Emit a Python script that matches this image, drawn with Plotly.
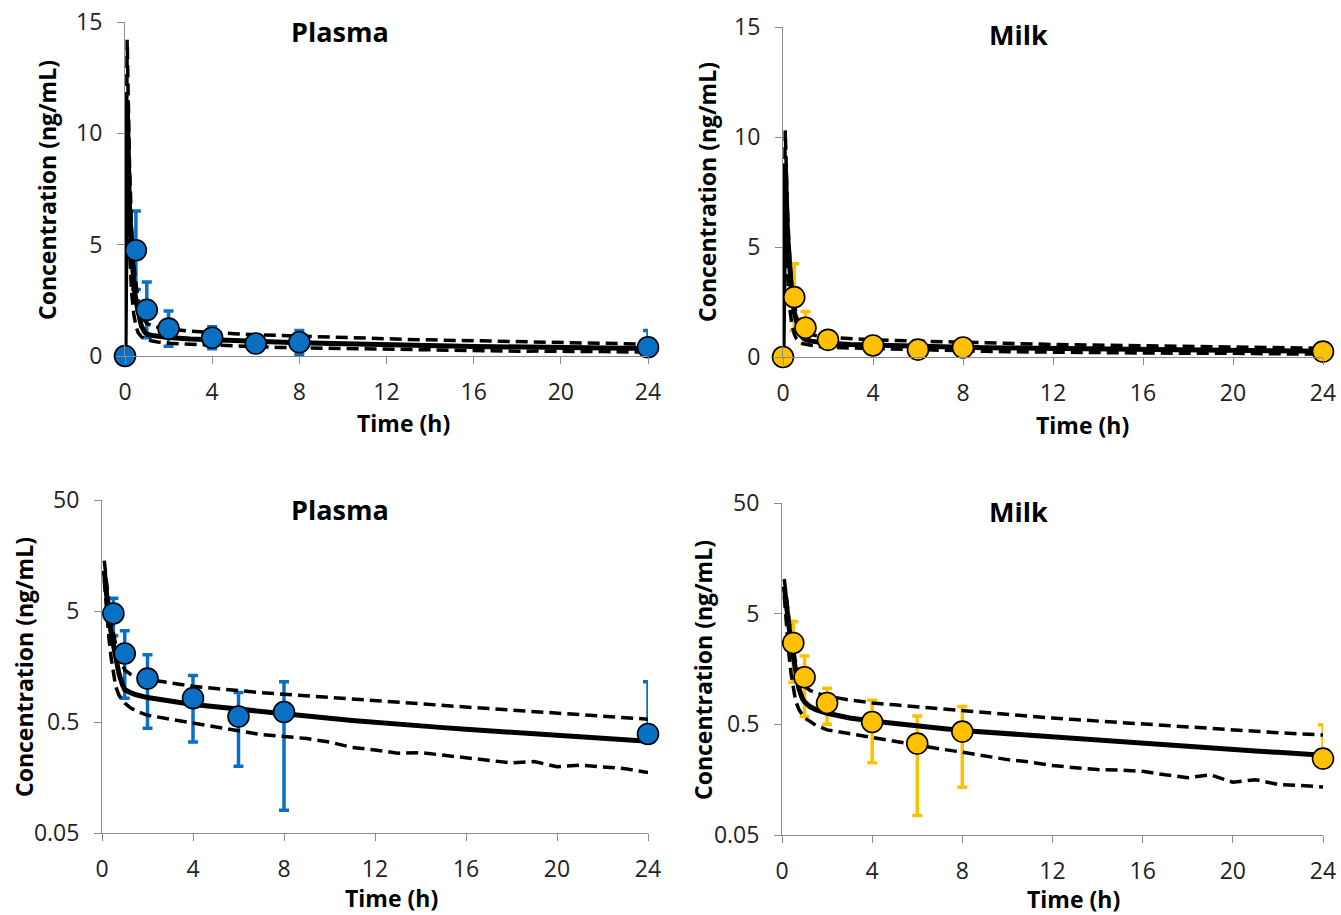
import plotly.graph_objects as go

# ---------------- data ----------------
obs_time = [0, 0.5, 1, 2, 4, 6, 8, 24]
plasma_mean = [0, 4.75, 2.07, 1.23, 0.82, 0.56, 0.615, 0.39]
plasma_sd = [0, 1.76, 1.25, 0.79, 0.49, 0.36, 0.535, 0.76]
milk_mean = [0, 2.72, 1.33, 0.78, 0.525, 0.335, 0.43, 0.245]
milk_sd = [0, 1.52, 0.74, 0.28, 0.30, 0.26, 0.295, 0.25]

sim_time = [0, 0.1, 0.2, 0.3, 0.4, 0.5, 0.6, 0.75, 0.9, 1.0, 1.25, 1.5, 2, 3, 4, 5, 6, 7, 8,
            9, 10, 11, 12, 13, 14, 15, 16, 17, 18, 19, 20, 21, 22, 23, 24]
plasma_p50 = [0, 11.5, 6.8, 4.4, 3.2, 2.5, 1.9, 1.35, 1.08, 0.98, 0.92, 0.88, 0.83, 0.765, 0.72,
              0.685, 0.65, 0.62, 0.595, 0.567, 0.54, 0.517, 0.495, 0.477, 0.46, 0.445, 0.43,
              0.417, 0.405, 0.392, 0.38, 0.367, 0.355, 0.345, 0.335]
plasma_p95 = [0, 14.2, 8.8, 5.8, 4.1, 3.1, 2.5, 1.95, 1.6, 1.47, 1.35, 1.29, 1.21, 1.12, 1.05,
              1.0, 0.955, 0.92, 0.89, 0.86, 0.83, 0.80, 0.77, 0.745, 0.725, 0.70, 0.68,
              0.66, 0.64, 0.62, 0.60, 0.585, 0.57, 0.545, 0.53]
plasma_p05 = [0, 9.5, 5.0, 2.9, 1.9, 1.35, 1.05, 0.87, 0.78, 0.74, 0.67, 0.63, 0.575, 0.53, 0.49,
              0.455, 0.42, 0.385, 0.37, 0.355, 0.33, 0.295, 0.28, 0.262, 0.265, 0.252, 0.238,
              0.228, 0.214, 0.22, 0.198, 0.204, 0.197, 0.19, 0.175]
milk_p50 = [0, 8.8, 5.6, 3.7, 2.7, 2.05, 1.55, 1.05, 0.86, 0.8, 0.72, 0.68, 0.63, 0.57, 0.535,
            0.505, 0.48, 0.46, 0.44, 0.425, 0.41, 0.396, 0.383, 0.37, 0.357, 0.345, 0.333,
            0.323, 0.313, 0.305, 0.296, 0.287, 0.279, 0.271, 0.263]
milk_p95 = [0, 10.3, 6.6, 4.4, 3.1, 2.4, 1.85, 1.4, 1.17, 1.1, 1.01, 0.96, 0.9, 0.83, 0.78,
            0.75, 0.72, 0.695, 0.67, 0.645, 0.62, 0.595, 0.57, 0.552, 0.535, 0.517, 0.50,
            0.485, 0.47, 0.455, 0.44, 0.43, 0.42, 0.41, 0.40]
milk_p05 = [0, 7.2, 3.8, 2.2, 1.45, 1.05, 0.82, 0.68, 0.6, 0.57, 0.53, 0.49, 0.445, 0.41, 0.38,
            0.35, 0.32, 0.30, 0.28, 0.26, 0.24, 0.228, 0.212, 0.203, 0.195, 0.193, 0.188,
            0.175, 0.165, 0.175, 0.15, 0.158, 0.143, 0.14, 0.136]

x_ticks = [0, 4, 8, 12, 16, 20, 24]
lin_ticks = [0, 5, 10, 15]
log_ticks = [0.05, 0.5, 5, 50]
log_ticktext = ["0.05", "0.5", "5", "50"]

BLUE = "#0a70c4"
GOLD = "#ffc000"
W, H = 1341, 915
FONT = "Open Sans"

fig = go.Figure()


def px_x(p):
    return p / W


def px_y(p):
    return 1 - p / H


def add_panel(n, mean, sd, p50, p05, p95, color, log):
    xa = "x" if n == 1 else f"x{n}"
    ya = "y" if n == 1 else f"y{n}"
    if log:
        t_obs = [t for t, m in zip(obs_time, mean) if m > 0]
        m_obs = [m for m in mean if m > 0]
        s_obs = [s for s, m in zip(sd, mean) if m > 0]
        minus = [s if m - s > 0 else 0 for m, s in zip(m_obs, s_obs)]
        ts = [t for t, v in zip(sim_time, p50) if v > 0]
        c50 = [v for v in p50 if v > 0]
        c05 = [v for v in p05 if v > 0]
        c95 = [v for v in p95 if v > 0]
    else:
        t_obs, m_obs, s_obs = obs_time, mean, sd
        minus = sd
        ts, c50, c05, c95 = sim_time, p50, p05, p95
    # error bars
    fig.add_trace(go.Scatter(
        x=t_obs, y=m_obs, mode="markers", xaxis=xa, yaxis=ya,
        marker=dict(size=1, color="rgba(0,0,0,0)"),
        error_y=dict(type="data", symmetric=False, array=s_obs, arrayminus=minus,
                     color=color, thickness=3.5, width=5),
        showlegend=False, hoverinfo="skip"))
    # simulated percentiles
    for c, dash, wd in [(c05, "12px,6px", 3.5), (c95, "12px,6px", 3.5), (c50, "solid", 5)]:
        fig.add_trace(go.Scatter(
            x=ts, y=c, mode="lines", xaxis=xa, yaxis=ya,
            line=dict(color="black", width=wd, dash=dash),
            showlegend=False))
    # observed points
    fig.add_trace(go.Scatter(
        x=t_obs, y=m_obs, mode="markers", xaxis=xa, yaxis=ya, cliponaxis=False,
        marker=dict(size=21, color=color, line=dict(color="black", width=1.6)),
        showlegend=False))


add_panel(1, plasma_mean, plasma_sd, plasma_p50, plasma_p05, plasma_p95, BLUE, False)
add_panel(2, milk_mean, milk_sd, milk_p50, milk_p05, milk_p95, GOLD, False)
add_panel(3, plasma_mean, plasma_sd, plasma_p50, plasma_p05, plasma_p95, BLUE, True)
add_panel(4, milk_mean, milk_sd, milk_p50, milk_p05, milk_p95, GOLD, True)

axis_common = dict(showline=True, linecolor="#8c8c8c", linewidth=1, ticks="outside",
                   ticklen=7, tickcolor="#8c8c8c", showgrid=False, zeroline=False,
                   automargin=False, ticklabeloverflow="allow",
                   tickfont=dict(family=FONT, size=23, color="#222222"))

panels = {
    1: dict(x=(125, 648), y=(22, 356), log=False),
    2: dict(x=(783, 1323), y=(27, 357), log=False),
    3: dict(x=(102, 648), y=(500, 833), log=True),
    4: dict(x=(782, 1323), y=(503, 835), log=True),
}
layout = {}
for n, p in panels.items():
    xk = "xaxis" if n == 1 else f"xaxis{n}"
    yk = "yaxis" if n == 1 else f"yaxis{n}"
    ya = "y" if n == 1 else f"y{n}"
    xa = "x" if n == 1 else f"x{n}"
    layout[xk] = dict(axis_common, domain=[px_x(p["x"][0]), px_x(p["x"][1])], anchor=ya,
                      range=[0, 24], tickvals=x_ticks, ticklabelstandoff=8)
    if p["log"]:
        layout[yk] = dict(axis_common, domain=[px_y(p["y"][1]), px_y(p["y"][0])], anchor=xa,
                          type="log", range=[-1.30103, 1.69897], tickvals=log_ticks,
                          ticktext=log_ticktext, ticklabelstandoff=10)
    else:
        layout[yk] = dict(axis_common, domain=[px_y(p["y"][1]), px_y(p["y"][0])], anchor=xa,
                          range=[0, 15], tickvals=lin_ticks, ticklabelstandoff=10)

annotations = []


def ann(text, x, y, size, angle=0):
    annotations.append(dict(text=text, x=px_x(x), y=px_y(y), xref="paper", yref="paper",
                            showarrow=False, xanchor="center", yanchor="middle",
                            textangle=angle, font=dict(family=FONT, size=size, color="black")))


ann("<b>Plasma</b>", 340, 32, 27)
ann("<b>Milk</b>", 1018, 34, 27)
ann("<b>Plasma</b>", 340, 509, 27)
ann("<b>Milk</b>", 1018, 511, 27)
ann("<b>Concentration (ng/mL)</b>", 47, 190, 23, -90)
ann("<b>Concentration (ng/mL)</b>", 707, 192, 23, -90)
ann("<b>Concentration (ng/mL)</b>", 24, 667, 23, -90)
ann("<b>Concentration (ng/mL)</b>", 703, 670, 23, -90)
ann("<b>Time (h)</b>", 404, 423, 23)
ann("<b>Time (h)</b>", 1082, 425, 23)
ann("<b>Time (h)</b>", 391, 898, 23)
ann("<b>Time (h)</b>", 1073, 899, 23)

fig.update_layout(width=W, height=H,
                  margin=dict(l=0, r=0, t=0, b=0, pad=0, autoexpand=False),
                  paper_bgcolor="white", plot_bgcolor="white",
                  annotations=annotations, **layout)

fig.write_html("out.html", config={"displayModeBar": False},
               post_script="document.body.style.margin='0px';document.body.style.overflow='hidden';")
